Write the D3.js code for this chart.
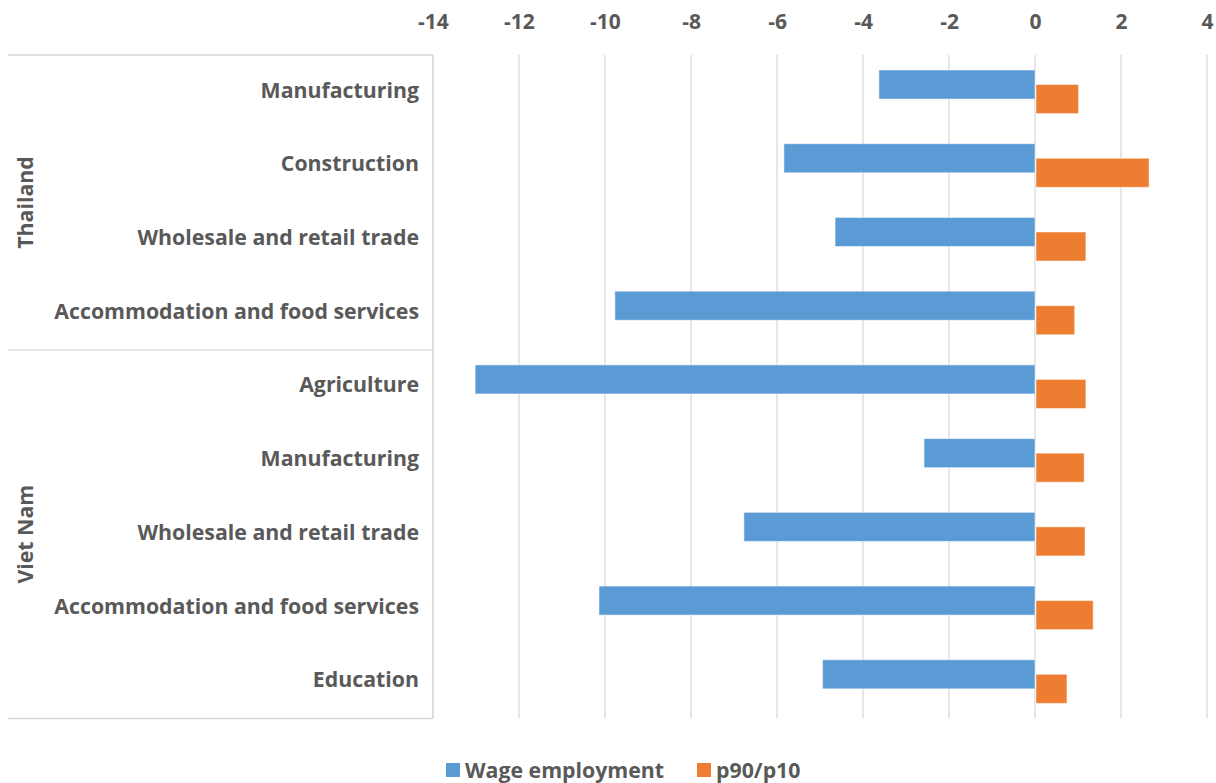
<!DOCTYPE html>
<html>
<head>
<meta charset="utf-8">
<script src="https://cdn.jsdelivr.net/npm/d3@7"></script>
<style>
  html, body { margin: 0; padding: 0; background: #fff; }
  svg { display: block; }
  text { font-family: "Open Sans", "Noto Sans", sans-serif; font-weight: 700; fill: #595959; }
</style>
</head>
<body>
<svg id="chart" width="1216" height="783"></svg>
<script>
// Sector-level change in wage employment and p90/p10 wage ratio
const countries = ["Thailand", "Viet Nam"];
const sectorCountry = ["Thailand", "Thailand", "Thailand", "Thailand",
                       "Viet Nam", "Viet Nam", "Viet Nam", "Viet Nam", "Viet Nam"];
const sectors = ["Manufacturing", "Construction", "Wholesale and retail trade",
                 "Accommodation and food services", "Agriculture", "Manufacturing",
                 "Wholesale and retail trade", "Accommodation and food services", "Education"];
const wageEmployment = [-3.63, -5.84, -4.65, -9.77, -13.02, -2.58, -6.77, -10.14, -4.94];
const p90p10 = [0.99, 2.63, 1.16, 0.90, 1.16, 1.12, 1.14, 1.33, 0.72];
const xTicks = [-14, -12, -10, -8, -6, -4, -2, 0, 2, 4];
const seriesNames = ["Wage employment", "p90/p10"];
const seriesColors = ["#5B9BD5", "#ED7D31"];

const svg = d3.select("#chart");
const plot = { left: 433, right: 1207, top: 55, bottom: 718.5 };
const gridColor = "#D9D9D9";

const keys = sectors.map((s, i) => sectorCountry[i] + "|" + i);

const x = d3.scaleLinear().domain([-14, 4]).range([plot.left, plot.right]);
const y = d3.scaleBand().domain(keys).range([plot.top, plot.bottom]).paddingInner(0).paddingOuter(0);
const rowH = y.bandwidth();
const barH = rowH * 0.394;
const barOff = rowH * 0.2036;

// Vertical gridlines
svg.append("g").selectAll("line").data(xTicks).join("line")
  .attr("x1", d => x(d)).attr("x2", d => x(d))
  .attr("y1", plot.top).attr("y2", plot.bottom)
  .attr("stroke", gridColor).attr("stroke-width", 1.3);

// Top axis labels
const xAxis = d3.axisTop(x).tickValues(xTicks).tickSize(0).tickPadding(0)
  .tickFormat(d => d < 0 ? "-" + Math.abs(d) : String(d));
const gx = svg.append("g").attr("transform", "translate(0, 29)").call(xAxis);
gx.select(".domain").remove();
gx.selectAll(".tick text")
  .attr("y", 0).attr("dy", 0)
  .attr("text-anchor", "middle")
  .style("font-size", "21px");

// Category axis frame: left border and group separators
svg.append("line")
  .attr("x1", plot.left).attr("x2", plot.left)
  .attr("y1", plot.top).attr("y2", plot.bottom)
  .attr("stroke", gridColor).attr("stroke-width", 1.3);

const groupBounds = countries.map(c => {
  const idx = keys.filter(k => k.startsWith(c + "|"));
  return { country: c, y0: y(idx[0]), y1: y(idx[idx.length - 1]) + rowH };
});
const sepYs = [plot.top].concat(groupBounds.map(g => g.y1));
svg.append("g").selectAll("line").data(sepYs).join("line")
  .attr("x1", 8).attr("x2", plot.left)
  .attr("y1", d => d).attr("y2", d => d)
  .attr("stroke", gridColor).attr("stroke-width", 1.3);

// Sector labels
svg.append("g").selectAll("text").data(keys).join("text")
  .attr("x", 419)
  .attr("y", d => y(d) + rowH / 2)
  .attr("text-anchor", "end")
  .attr("dominant-baseline", "middle")
  .style("font-size", "21.3px")
  .text((d, i) => sectors[i]);

// Country labels
svg.append("g").selectAll("text").data(groupBounds).join("text")
  .attr("transform", d => `translate(27, ${(d.y0 + d.y1) / 2}) rotate(-90)`)
  .attr("text-anchor", "middle")
  .attr("dominant-baseline", "middle")
  .style("font-size", "21.3px")
  .text(d => d.country);

// Bars
const bars = svg.append("g");
bars.selectAll("rect.wage").data(wageEmployment).join("rect")
  .attr("class", "wage")
  .attr("x", d => x(Math.min(0, d)))
  .attr("width", d => Math.abs(x(d) - x(0)))
  .attr("y", (d, i) => y(keys[i]) + barOff)
  .attr("height", barH)
  .attr("fill", seriesColors[0])
  .attr("stroke", "#fff").attr("stroke-opacity", 0.5).attr("stroke-width", 1);

bars.selectAll("rect.ratio").data(p90p10).join("rect")
  .attr("class", "ratio")
  .attr("x", d => x(Math.min(0, d)) + 1)
  .attr("width", d => Math.abs(x(d) - x(0)))
  .attr("y", (d, i) => y(keys[i]) + barOff + barH / 2)
  .attr("height", barH)
  .attr("fill", seriesColors[1])
  .attr("stroke", "#fff").attr("stroke-opacity", 0.5).attr("stroke-width", 1);

// Legend
const legendItems = [
  { name: seriesNames[0], color: seriesColors[0], x: 446 },
  { name: seriesNames[1], color: seriesColors[1], x: 697 }
];
const lg = svg.append("g");
lg.selectAll("rect").data(legendItems).join("rect")
  .attr("x", d => d.x).attr("y", 763)
  .attr("width", 14).attr("height", 14)
  .attr("fill", d => d.color);
lg.selectAll("text").data(legendItems).join("text")
  .attr("x", d => d.x + 19).attr("y", 777.5)
  .style("font-size", "21.3px")
  .text(d => d.name);
</script>
</body>
</html>
